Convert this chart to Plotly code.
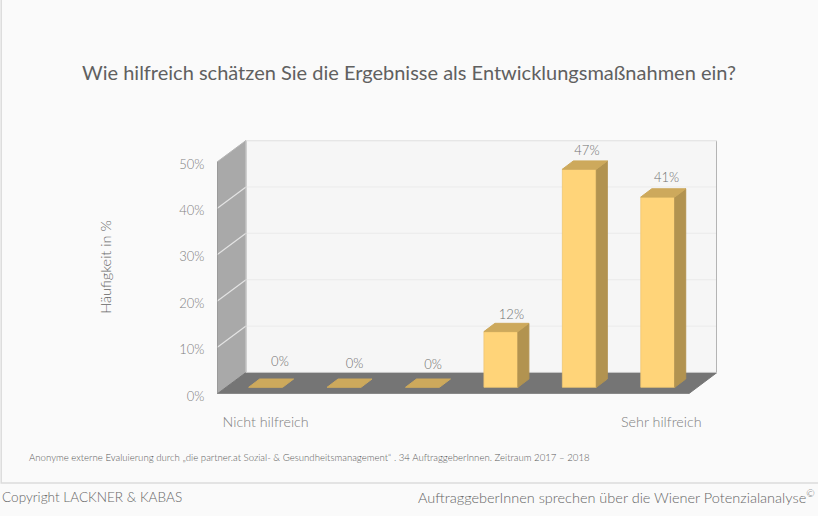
import plotly.graph_objects as go

# ---- data ----
categories = [0, 1, 2, 3, 4, 5]
values = [0, 0, 0, 12, 47, 41]
value_labels = ["0%", "0%", "0%", "12%", "47%", "41%"]
y_ticks = [0, 10, 20, 30, 40, 50]
y_tick_labels = ["0%", "10%", "20%", "30%", "40%", "50%"]
x_tick_vals = [0, 5.045]
x_tick_labels = ["Nicht hilfreich", "Sehr hilfreich"]

TITLE = "Wie hilfreich schätzen Sie die Ergebnisse als Entwicklungsmaßnahmen ein?"
Y_TITLE = "Häufigkeit in %"
NOTE = "Anonyme externe Evaluierung durch „die partner.at Sozial- &amp; Gesundheitsmanagement“ . 34 AuftraggeberInnen. Zeitraum 2017 – 2018"
COPY = "Copyright LACKNER &amp; KABAS"
SLOGAN = "AuftraggeberInnen sprechen über die Wiener Potenzialanalyse<sup>©</sup>"

# ---- geometry / style ----
W, H = 818, 516
L, R, T, B = 217, 717.5, 140, 394   # plot area in page pixels
PITCH = 78.5                        # px per category
UNIT = 4.64                         # px per percent
C0 = 265.7                          # px of first category
FONT = "Lato Light, Lato"

x0 = (L - C0) / PITCH
x1 = (R - C0) / PITCH
y1 = (B - T) / UNIT
front_r = (688.8 - C0) / PITCH
DX = 29 / PITCH
DY = 21.5 / UNIT
BAR_HW = 17 / PITCH
BAR_Y = 6.7 / UNIT
BAR_DX = 11 / PITCH
BAR_DY = 8.3 / UNIT
# hand-placed data labels in the original chart (px nudges from the bar's top)
nudge_x = [14.3, 10.5, 10.6, 10.5, 7.6, 8.8]
nudge_y = [16, 14, 13, 8, 9.5, 10.5]

C_FRONT, C_TOP, C_SIDE = "#ffd479", "#cda95c", "#b29350"


def py(y):
    return 1 - (y - T) / (B - T)


fig = go.Figure()


def poly(xs, ys, fill, line=None, lw=1):
    fig.add_trace(go.Scatter(
        x=list(xs) + [xs[0]], y=list(ys) + [ys[0]], mode="lines", fill="toself",
        fillcolor=fill, line=dict(color=line or fill, width=lw), hoverinfo="skip",
        showlegend=False))


def seg(xs, ys, color, lw=1):
    fig.add_trace(go.Scatter(x=xs, y=ys, mode="lines", line=dict(color=color, width=lw),
                             hoverinfo="skip", showlegend=False))


TOP = y_ticks[-1]
# back wall
poly([x0 + DX, x1, x1, x0 + DX], [DY, DY, TOP + DY, TOP + DY], "#f6f6f6", "#ececec", 1.5)
# left wall
poly([x0, x0 + DX, x0 + DX, x0], [0, DY, TOP + DY, TOP], "#a9a9a9", "#b5b5b5", 1)
# floor
poly([x0, front_r, x1, x0 + DX], [0, 0, DY, DY], "#757575", "#757575", 1)
# grid lines
for t in y_ticks[1:-1]:
    seg([x0 + DX, x1], [t + DY, t + DY], "#ebebeb", 1)
    seg([x0, x0 + DX], [t, t + DY], "#e4e4e4", 1.2)
# frame edges
seg([x1, x1], [DY, TOP + DY], "#a0a0a0", 1.5)
seg([x0 + DX, x1], [TOP + DY, TOP + DY], "#e6e6e6", 1.5)
seg([x0 + DX, x0 + DX], [DY, TOP + DY], "#c9c9c9", 1)
seg([x0, x0], [0, TOP], "#8c8c8c", 1.2)
seg([x0, front_r], [0, 0], "#9c9c9c", 1.2)
seg([x0 + DX, x1], [DY, DY], "#c4c4c4", 1)

# bars
for c, v in zip(categories, values):
    a, b = c - BAR_HW, c + BAR_HW
    base, top = BAR_Y, BAR_Y + v
    if v > 0:
        poly([a, b, b, a], [base, base, top, top], C_FRONT, "#f0c873", 0.8)
        poly([b, b + BAR_DX, b + BAR_DX, b], [base, base + BAR_DY, top + BAR_DY, top], C_SIDE)
    poly([a, b, b + BAR_DX, a + BAR_DX], [top, top, top + BAR_DY, top + BAR_DY], C_TOP)

# value labels
fig.add_trace(go.Scatter(
    x=[c + n / PITCH for c, n in zip(categories, nudge_x)],
    y=[BAR_Y + v + BAR_DY + n / UNIT for v, n in zip(values, nudge_y)],
    mode="text", text=value_labels, textposition="middle center",
    textfont=dict(family=FONT, size=13, color="#707070"),
    hoverinfo="skip", showlegend=False, cliponaxis=False))

fig.update_layout(
    width=W, height=H, autosize=False,
    margin=dict(l=L, r=W - R, t=T, b=H - B, autoexpand=False),
    paper_bgcolor="#fafafa", plot_bgcolor="rgba(0,0,0,0)",
    showlegend=False,
    font=dict(family=FONT, color="#999999"),
    title=dict(text=TITLE, x=409 / W, xanchor="center", y=1 - 73 / H, yanchor="middle",
               font=dict(family="Lato", size=20, color="#606060")),
    xaxis=dict(range=[x0, x1], tickmode="array", tickvals=x_tick_vals, ticktext=x_tick_labels,
               showgrid=False, zeroline=False, showline=False, ticks="outside", ticklen=15,
               tickcolor="rgba(0,0,0,0)", tickfont=dict(family=FONT, size=14.3, color="#808080")),
    yaxis=dict(range=[0, y1], tickmode="array", tickvals=y_ticks, ticktext=y_tick_labels,
               showgrid=False, zeroline=False, showline=False, ticks="outside", ticklen=9,
               ticklabelshift=2,
               tickcolor="rgba(0,0,0,0)", tickfont=dict(family=FONT, size=13, color="#808080")),
)
fig.update_yaxes(title=dict(text=Y_TITLE, standoff=64,
                            font=dict(family=FONT, size=14.5, color="#666666")))

PW = R - L


def pax(x):
    return (x - L) / PW


# panel
fig.add_shape(type="rect", layer="below", xref="paper", yref="paper",
              x0=pax(1), x1=pax(830), y0=py(483), y1=py(-10),
              line=dict(color="#dcdcdc", width=1.5), fillcolor="#fafafa")


def note(text, x, y, anchor, size, color):
    fig.add_annotation(text=text, xref="paper", yref="paper", x=pax(x), y=py(y),
                       xanchor=anchor, yanchor="middle", showarrow=False,
                       font=dict(family=FONT, size=size, color=color))


note(NOTE, 26.5, 457, "left", 9.65, "#5a5a5a")
note(COPY, 0, 497, "left", 13.6, "#666666")
note(SLOGAN, 818, 496, "right", 14.5, "#666666")

fig.write_html("out.html", config=dict(displayModeBar=False),
               post_script="document.body.style.margin='0';document.body.style.background='#fafafa';")
